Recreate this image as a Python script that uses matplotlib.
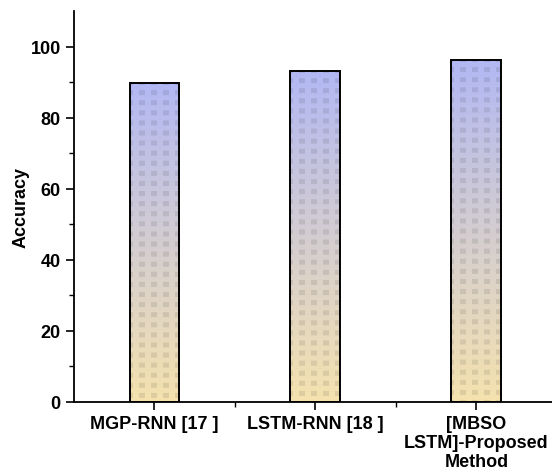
import numpy as np
import matplotlib.pyplot as plt
from matplotlib.colors import to_rgb

methods = ["MGP-RNN [17 ]", "LSTM-RNN [18 ]", "[MBSO\nLSTM]-Proposed\nMethod"]
accuracy = [89.8, 93.2, 96.3]

plt.rcParams['font.family'] = ['Liberation Sans', 'DejaVu Sans']
plt.rcParams['font.weight'] = 'bold'

fig = plt.figure(figsize=(5.52, 4.77), dpi=100)
ax = fig.add_axes([74 / 552, 74 / 477, (552 - 74) / 552, (477 - 74 - 12) / 477])

x = np.arange(len(methods))
width = 0.31
top_col = np.array(to_rgb("#b2b8f4"))
bot_col = np.array(to_rgb("#f5e2ae"))

bars = ax.bar(x, accuracy, width=width, facecolor='none', edgecolor='black',
              linewidth=1.4, zorder=3)

# gradient fill with a faint checked texture, clipped to each bar
for rect, val in zip(bars, accuracy):
    nrows = int(val * 3.54)
    ncols = 50
    t = np.linspace(1, 0, nrows)[:, None, None]
    img = t * top_col + (1 - t) * bot_col
    img = np.repeat(img, ncols, axis=1)
    yy, xx = np.mgrid[0:nrows, 0:ncols]
    mask = ((xx + 3) % 12 < 6) & ((yy + 2) % 10 < 5)
    img[mask] *= 0.91
    x0 = rect.get_x()
    im = ax.imshow(img, extent=[x0, x0 + width, 0, val], aspect='auto',
                   interpolation='bilinear', zorder=2)
    im.set_clip_path(rect)

ax.set_xlim(-0.5, 2.47)
ax.set_ylim(0, 110)

ax.spines['top'].set_visible(False)
ax.spines['right'].set_visible(False)
ax.spines['left'].set_linewidth(1.3)
ax.spines['bottom'].set_linewidth(1.3)

ax.set_yticks([0, 20, 40, 60, 80, 100])
ax.set_yticks([10, 30, 50, 70, 90], minor=True)
ax.set_xticks(x)
ax.set_xticks([0.5, 1.5], minor=True)
ax.set_xticklabels(methods, fontsize=13, fontweight='bold', linespacing=1.15)
ax.tick_params(axis='both', which='major', length=6, width=1.2, labelsize=13)
ax.tick_params(axis='both', which='minor', length=3.5, width=1.0)
for lab in ax.get_yticklabels():
    lab.set_fontweight('bold')

ax.set_ylabel("Accuracy", fontsize=13, fontweight='bold', labelpad=1)

fig.savefig("out.png", dpi=100)
